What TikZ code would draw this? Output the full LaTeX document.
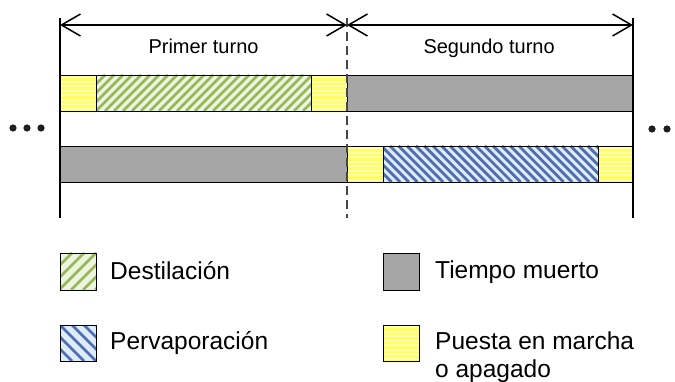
\documentclass[tikz,border=0pt]{standalone}
\usepackage{fontspec}
\setmainfont{Liberation Sans}
\usetikzlibrary{arrows.meta}
\definecolor{grstripe}{RGB}{150,184,84}
\definecolor{grbg}{RGB}{238,244,226}
\definecolor{blstripe}{RGB}{80,110,175}
\definecolor{blbg}{RGB}{222,236,250}
\definecolor{yel}{RGB}{255,255,100}
\definecolor{yellight}{RGB}{255,255,175}
\definecolor{deadgray}{RGB}{166,166,166}
\tikzset{
  frame/.style={draw=black, line width=0.9pt},
  turnline/.style={line width=2pt, black},
  turnarrow/.style={line width=1.5pt, {Straight Barb[length=19pt,width=22pt,line width=1.5pt]}-{Straight Barb[length=19pt,width=22pt,line width=1.5pt]}},
  divider/.style={line width=1.1pt, draw={rgb,255:red,70;green,70;blue,70}, dash pattern=on 9pt off 5pt},
  title/.style={font=\fontsize{20}{24}\selectfont, anchor=base west, inner sep=0pt},
  legtext/.style={font=\fontsize{24.5}{28}\selectfont, anchor=base west, inner sep=0pt},
  dot/.style={fill={rgb,255:red,30;green,30;blue,30}, draw=none}
}
% green NE hatch in rectangle
\newcommand{\greenhatch}[5]{% x1 y1 x2 y2 period
  \fill[grbg] (#1,#2) rectangle (#3,#4);
  \begin{scope}
    \clip (#1,#2) rectangle (#3,#4);
    \pgfmathsetmacro{\hh}{#4-#2}
    \pgfmathsetmacro{\xs}{#1-\hh}
    \pgfmathsetmacro{\xn}{#1-\hh+#5}
    \foreach \x in {\xs,\xn,...,#3}
      \draw[grstripe, line width=2.6pt] (\x,#4) -- ++(\hh,-\hh);
  \end{scope}
  \draw[frame] (#1,#2) rectangle (#3,#4);
}
\newcommand{\bluehatch}[5]{%
  \fill[blbg] (#1,#2) rectangle (#3,#4);
  \begin{scope}
    \clip (#1,#2) rectangle (#3,#4);
    \pgfmathsetmacro{\hh}{#4-#2}
    \pgfmathsetmacro{\xs}{#1-\hh}
    \pgfmathsetmacro{\xn}{#1-\hh+#5}
    \foreach \x in {\xs,\xn,...,#3}
      \draw[blstripe, line width=2.8pt] (\x,#2) -- ++(\hh,\hh);
  \end{scope}
  \draw[frame] (#1,#2) rectangle (#3,#4);
}
\newcommand{\yellowbox}[4]{%
  \fill[yel] (#1,#2) rectangle (#3,#4);
  \begin{scope}
    \clip (#1,#2) rectangle (#3,#4);
    \pgfmathsetmacro{\ys}{#2+2.2}
    \pgfmathsetmacro{\yn}{#2+6.7}
    \foreach \y in {\ys,\yn,...,#4}
      \draw[yellight, line width=1.9pt] (#1,\y) -- (#3,\y);
  \end{scope}
  \draw[frame] (#1,#2) rectangle (#3,#4);
}
\newcommand{\graybox}[4]{%
  \fill[deadgray] (#1,#2) rectangle (#3,#4);
  \draw[frame] (#1,#2) rectangle (#3,#4);
}
\begin{document}
\begin{tikzpicture}[x=1pt,y=-1pt]
\useasboundingbox (0,0) rectangle (675,382);
\fill[white] (0,0) rectangle (675,382);

% coordinates
\coordinate (Ltop) at (60,18);
\coordinate (Lbot) at (60,218);
\coordinate (Mtop) at (347,18);
\coordinate (Mbot) at (347,218);
\coordinate (Rtop) at (633,18);
\coordinate (Rbot) at (633,218);
\coordinate (La) at (60,25);
\coordinate (Ma) at (347,25);
\coordinate (Ra) at (633,25);

% top row
\yellowbox{60}{75}{96}{111}
\greenhatch{96}{75}{311}{111}{9}
\yellowbox{311}{75}{347}{111}
\graybox{347}{75}{633}{111}

% bottom row
\graybox{60}{146}{347}{182}
\yellowbox{347}{146}{383}{182}
\bluehatch{383}{146}{598}{182}{8.6}
\yellowbox{598}{146}{633}{182}

% vertical lines
\draw[turnline] (Ltop) -- (Lbot);
\draw[turnline] (Rtop) -- (Rbot);
\draw[divider] (Mtop) -- (Mbot);

% arrows
\draw[turnarrow] (La) -- (Ma);
\draw[turnarrow] (Ma) -- (Ra);

\node[title] (t1) at (148.3,53.3) {Primer turno};
\node[title] (t2) at (423.3,53.3) {Segundo turno};

% dots
\fill[dot] (13,128) circle (3.6);
\fill[dot] (27,128) circle (3.6);
\fill[dot] (41,128) circle (3.6);
\fill[dot] (652,129) circle (3.6);
\fill[dot] (667,129) circle (3.6);

% legend
\greenhatch{60}{253}{96}{290}{12}
\bluehatch{60}{325}{96}{361}{12}
\graybox{383}{253}{419}{290}
\yellowbox{383}{325}{419}{361}

\node[legtext] (l1) at (110,279.3) {Destilación};
\node[legtext] (l2) at (110,349.3) {Pervaporación};
\node[legtext] (l3) at (435,278.3) {Tiempo muerto};
\node[legtext] (l4) at (435,349.3) {Puesta en marcha};
\node[legtext] (l5) at (435,377.3) {o apagado};
\end{tikzpicture}
\end{document}
